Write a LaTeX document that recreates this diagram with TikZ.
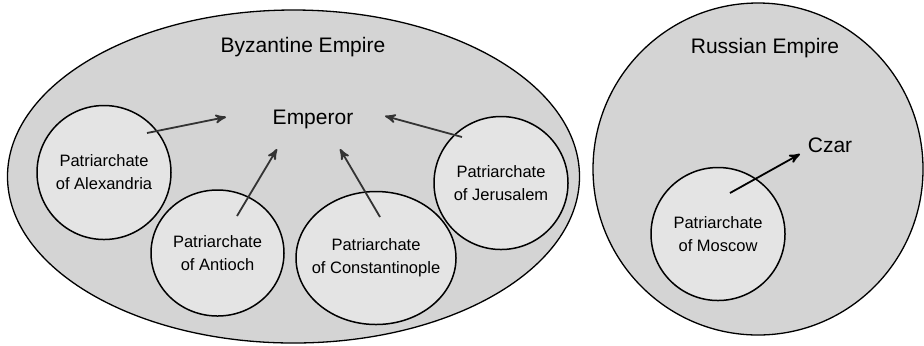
\documentclass[tikz,border=0pt]{standalone}
\usepackage{fontspec}
\setmainfont{Liberation Sans}
\usetikzlibrary{shapes.geometric,arrows}
\definecolor{empiregray}{HTML}{D4D4D4}
\definecolor{churchgray}{HTML}{E4E4E4}
\definecolor{arrowgray}{HTML}{333333}
\tikzstyle{empire} = [ellipse, draw, fill=empiregray, line width=0.65pt, inner sep=0pt]
\tikzstyle{church} = [ellipse, draw, fill=churchgray, line width=0.75pt,
    inner sep=-14pt, align=center, font=\fontsize{8.25}{11.5}\selectfont]
\tikzstyle{ruler} = [font=\fontsize{10.5}{12}\selectfont]
\tikzstyle{line} = [draw=arrowgray, -stealth', line width=0.9pt]

\begin{document}
\begin{tikzpicture}[x=0.5pt, y=-0.5pt]
    \useasboundingbox (0,0) rectangle (924,345);
    % Place empires
    \node [empire, minimum width=286pt, minimum height=166.5pt] (byzantine) at (293.5,176.5) {};
    \node [empire, minimum width=165pt, minimum height=166pt] (russia) at (758,169) {};
    \node [ruler] (byztitle) at (303,47) {Byzantine Empire};
    \node [ruler] (rustitle) at (765,48) {Russian Empire};
    \node [ruler] (emperor) at (313,119) {Emperor};
    \node [ruler] (czar) at (830,145) {Czar};
    % Place patriarchates
    \node [church, minimum width=67pt, minimum height=67pt] (alex) at (104,172.5) {Patriarchate\\of Alexandria};
    \node [church, minimum width=66.5pt, minimum height=63pt] (antioch) at (217.5,253) {Patriarchate\\of Antioch};
    \node [church, minimum width=80pt, minimum height=66.5pt] (const) at (376,258) {Patriarchate\\of Constantinople};
    \node [church, minimum width=67pt, minimum height=66.5pt] (jerus) at (501,183) {Patriarchate\\of Jerusalem};
    \node [church, minimum width=67pt, minimum height=66.5pt] (moscow) at (718,234) {Patriarchate\\of Moscow};

    \path [line] ([shift={(43,-39.5)}]alex.center) -- ([shift={(-87,-2)}]emperor.center);
    \path [line] ([shift={(19.5,-37)}]antioch.center) -- ([shift={(-36,30)}]emperor.center);
    \path [line] ([shift={(4,-41)}]const.center) -- ([shift={(27,30)}]emperor.center);
    \path [line] ([shift={(-39,-46)}]jerus.center) -- ([shift={(72,-3)}]emperor.center);
    \path [line, draw=black] ([shift={(12,-41)}]moscow.center) -- ([shift={(-30,9)}]czar.center);
\end{tikzpicture}
\end{document}
